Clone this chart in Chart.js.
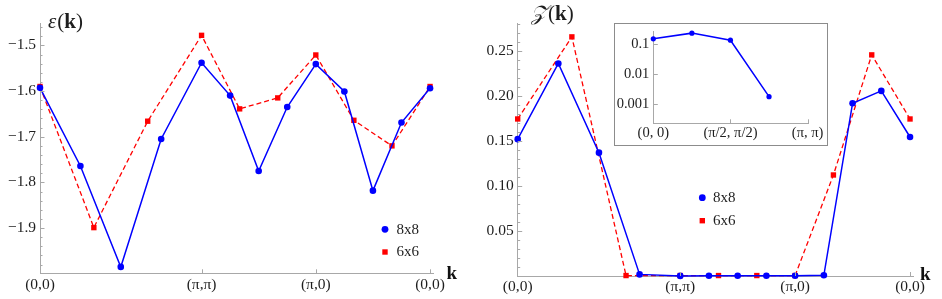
<!DOCTYPE html>
<html><head><meta charset="utf-8">
<script src="https://cdn.jsdelivr.net/npm/chart.js@4.4.1/dist/chart.umd.min.js"></script>
<style>
html,body{margin:0;padding:0;background:#fff;overflow:hidden}
#wrap{position:relative;width:942px;height:299px;background:#fff}
#left{position:absolute;left:0;top:0}
#right{position:absolute;left:470px;top:0}
#insetBox{position:absolute;left:614px;top:23px;width:212px;height:121px;border:1px solid #8c8c8c;background:#fff}
#inset{position:absolute;left:0;top:0}
</style></head><body>
<div id="wrap">
<canvas id="left" width="470" height="299"></canvas>
<canvas id="right" width="472" height="299"></canvas>
<div id="insetBox"><canvas id="inset" width="212" height="121"></canvas></div>
</div>
<script>
// ---------- data ----------
const seriesNames = ['8x8', '6x6'];
// path length along (0,0)->(pi,pi)->(pi,0)->(0,0), in units of pi
const kPath8 = [0, 0.3536, 0.7071, 1.0607, 1.4142, 1.6642, 1.9142, 2.1642, 2.4142, 2.6642, 2.9142, 3.1642, 3.4142];
const kPath6 = [0, 0.4714, 0.9428, 1.4142, 1.7475, 2.0809, 2.4142, 2.7475, 3.0809, 3.4142];
const kTickPos = [0, 1.4142, 2.4142, 3.4142];
const kTickLabels = ['(0,0)', '(π,π)', '(π,0)', '(0,0)'];

const eps8x8 = [-1.593, -1.764, -1.985, -1.705, -1.538, -1.610, -1.775, -1.635, -1.541, -1.601, -1.818, -1.669, -1.594];
const eps6x6 = [-1.590, -1.899, -1.666, -1.478, -1.639, -1.615, -1.521, -1.664, -1.720, -1.590];
const epsTicks = [-1.9, -1.8, -1.7, -1.6, -1.5];

const Z8x8 = [0.152, 0.236, 0.137, 0.0018, 0.0001, 0.0002, 0.0002, 0.0002, 0.0002, 0.0008, 0.1919, 0.2056, 0.1544];
const Z6x6 = [0.1744, 0.2656, 0.0005, 0.0005, 0.0005, 0.0005, 0.0005, 0.1122, 0.2456, 0.1744];
const zTicks = [0.05, 0.10, 0.15, 0.20, 0.25];

// inset: 8x8 along (0,0)->(pi,pi), steps of (pi/4,pi/4)
const insetK = [0, 1, 2, 3];
const insetZ8x8 = Z8x8.slice(0, 4);
const insetTickPos = [0, 2, 4];
const insetTickLabels = ['(0, 0)', '(π/2, π/2)', '(π, π)'];
const insetYTicks = [0.001, 0.01, 0.1];
const insetYLabels = ['0.001', '0.01', '0.1'];

// ---------- style ----------
const BLUE = 'rgb(0,0,255)';
const RED = 'rgb(255,0,0)';
const AXIS = '#a8a8a8';
const TXT = '#1e1e1e';
const SERIF = '"Liberation Serif", "Times New Roman", serif';

function pts(xs, ys) { return xs.map((x, i) => ({x: x, y: ys[i]})); }

function blueSet(xs, ys) {
  return {label: seriesNames[0], data: pts(xs, ys), borderColor: BLUE, backgroundColor: BLUE,
    borderWidth: 1.5, pointRadius: 3.3, pointStyle: 'circle', pointBorderWidth: 0, tension: 0, clip: false};
}
function redSet(xs, ys) {
  return {label: seriesNames[1], data: pts(xs, ys), borderColor: RED, backgroundColor: RED,
    borderWidth: 1.3, borderDash: [5, 3], pointRadius: 3.8, pointStyle: 'rect', pointBorderWidth: 0, tension: 0, clip: false};
}

function drawRich(ctx, parts, x, y) {
  ctx.textBaseline = 'alphabetic'; ctx.textAlign = 'left'; ctx.fillStyle = TXT;
  parts.forEach(p => { ctx.font = p.f; ctx.fillText(p.t, x, y); x += ctx.measureText(p.t).width + (p.gap || 0); });
}

function decorPlugin(d) {
  return {
    id: 'decor',
    afterDraw(chart) {
      const ctx = chart.ctx, xs = chart.scales.x, ys = chart.scales.y, a = chart.chartArea;
      ctx.save();
      ctx.strokeStyle = AXIS; ctx.lineWidth = 1;
      ctx.beginPath();
      (d.yMajor || []).forEach(v => { const p = Math.round(ys.getPixelForValue(v)) + 0.5; ctx.moveTo(a.left, p); ctx.lineTo(a.left + 4.5, p); });
      (d.yMinor || []).forEach(v => { const p = Math.round(ys.getPixelForValue(v)) + 0.5; ctx.moveTo(a.left, p); ctx.lineTo(a.left + 2.5, p); });
      (d.xMajor || []).forEach(v => { const p = Math.round(xs.getPixelForValue(v)) + 0.5; ctx.moveTo(p, a.bottom); ctx.lineTo(p, a.bottom - 4); });
      ctx.stroke();
      if (d.title) drawRich(ctx, d.title, d.titleX, d.titleY);
      if (d.axisLabel) { ctx.font = 'bold 19px ' + SERIF; ctx.fillStyle = '#111'; ctx.textBaseline = 'alphabetic'; ctx.fillText('k', d.axisLabel.x, d.axisLabel.y); }
      if (d.legend) {
        const L = d.legend;
        chart.data.datasets.forEach((ds, i) => {
          const cy = L.y + i * L.dy;
          ctx.fillStyle = ds.backgroundColor;
          ctx.beginPath();
          if (ds.pointStyle === 'rect') { ctx.rect(L.x - 2.7, cy - 2.7, 5.4, 5.4); }
          else { ctx.arc(L.x, cy, 3.4, 0, Math.PI * 2); }
          ctx.fill();
          ctx.fillStyle = TXT; ctx.font = '15px ' + SERIF; ctx.textBaseline = 'middle'; ctx.textAlign = 'left';
          ctx.fillText(ds.label, L.tx, cy + 0.5);
        });
      }
      ctx.restore();
    }
  };
}

function makeChart(canvas, c) {
  return new Chart(canvas, {
    type: 'line',
    data: {datasets: c.datasets},
    options: {
      responsive: false, animation: false, devicePixelRatio: 1, events: [],
      layout: {padding: c.pad},
      plugins: {legend: {display: false}, tooltip: {enabled: false}, title: {display: false}},
      scales: {
        x: {type: 'linear', bounds: 'data', min: c.x.min, max: c.x.max,
          grid: {display: false, drawTicks: false}, border: {display: true, color: AXIS, width: 1},
          ticks: {autoSkip: false, maxRotation: 0, minRotation: 0, padding: c.x.pad, color: TXT,
            font: {family: SERIF, size: c.fs}, callback: (v, i) => c.x.labels[i]},
          afterBuildTicks: s => { s.ticks = c.x.ticks.map(v => ({value: v})); },
          afterFit: s => { s.height = c.x.h; s.paddingLeft = 0; s.paddingRight = 0; }
        },
        y: {type: c.y.type || 'linear', bounds: 'data', min: c.y.min, max: c.y.max,
          grid: {display: false, drawTicks: false}, border: {display: true, color: AXIS, width: 1},
          ticks: {autoSkip: false, padding: c.y.pad, color: TXT,
            font: {family: SERIF, size: c.fs}, callback: (v, i) => c.y.labels[i]},
          afterBuildTicks: s => { s.ticks = c.y.ticks.map(v => ({value: v})); },
          afterFit: s => { s.width = c.y.w; s.paddingTop = 0; s.paddingBottom = 0; }
        }
      }
    },
    plugins: [decorPlugin(c.decor)]
  });
}

function minorTicks(lo, hi, step, every) {
  const out = [];
  for (let i = lo; i <= hi; i++) { if (i % every !== 0) out.push(i * step); }
  return out;
}

// ---------- left panel: epsilon(k) ----------
makeChart(document.getElementById('left'), {
  datasets: [blueSet(kPath8, eps8x8), redSet(kPath6, eps6x6)],
  pad: {left: 0, top: 23, right: 37, bottom: 0},
  fs: 15.5,
  x: {min: 0, max: 3.44, ticks: kTickPos, labels: kTickLabels, pad: 2, h: 25.7},
  y: {min: -1.999, max: -1.451, ticks: epsTicks, labels: epsTicks.map(v => '\u2212' + Math.abs(v).toFixed(1)), pad: 4, w: 40},
  decor: {
    yMajor: epsTicks, yMinor: minorTicks(-99, -73, 0.02, 5), xMajor: kTickPos.slice(1),
    title: [{t: 'ε', f: 'italic 21px ' + SERIF, gap: 1}, {t: '(', f: '21px ' + SERIF}, {t: 'k', f: 'bold 21px ' + SERIF}, {t: ')', f: '21px ' + SERIF}],
    titleX: 48, titleY: 27.5,
    axisLabel: {x: 446.5, y: 279},
    legend: {x: 385, y: 229.3, dy: 22.7, tx: 396.5}
  }
});

// ---------- right panel: Z(k) ----------
makeChart(document.getElementById('right'), {
  datasets: [blueSet(kPath8, Z8x8), redSet(kPath6, Z6x6)],
  pad: {left: 0, top: 23, right: 29, bottom: 0},
  fs: 15.5,
  x: {min: 0, max: 3.44, ticks: kTickPos, labels: kTickLabels, pad: 1.5, h: 23},
  y: {min: 0, max: 0.281, ticks: zTicks, labels: zTicks.map(v => v.toFixed(2)), pad: 4, w: 47.7},
  decor: {
    yMajor: zTicks, yMinor: minorTicks(1, 28, 0.01, 5), xMajor: kTickPos.slice(1),
    title: [{t: '𝒵', f: 'italic 21px ' + SERIF, gap: 1}, {t: '(', f: '21px ' + SERIF}, {t: 'k', f: 'bold 21px ' + SERIF}, {t: ')', f: '21px ' + SERIF}],
    titleX: 61, titleY: 20,
    axisLabel: {x: 450, y: 280},
    legend: {x: 232.3, y: 197.7, dy: 23, tx: 243}
  }
});

// ---------- inset: log scale ----------
makeChart(document.getElementById('inset'), {
  datasets: [Object.assign(blueSet(insetK, insetZ8x8), {pointRadius: 2.6})],
  pad: {left: 0, top: 7, right: 19, bottom: 0},
  fs: 14.5,
  x: {min: 0, max: 4.01, ticks: insetTickPos, labels: insetTickLabels, pad: 1.3, h: 21.7},
  y: {type: 'logarithmic', min: 0.000233, max: 0.278, ticks: insetYTicks, labels: insetYLabels, pad: 4, w: 38.3},
  decor: {yMajor: insetYTicks, xMajor: insetTickPos.slice(1)}
});
</script>
</body></html>
